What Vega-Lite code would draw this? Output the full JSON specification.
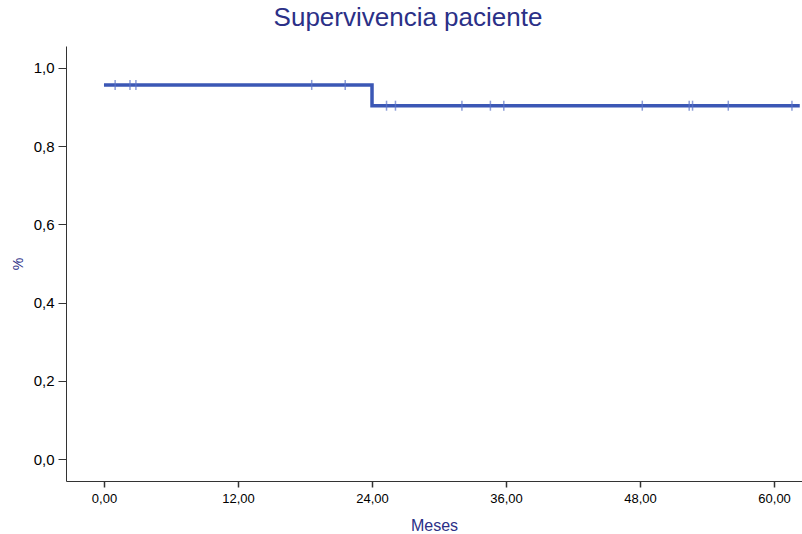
{
  "$schema": "https://vega.github.io/schema/vega-lite/v6.json",
  "width": 736,
  "height": 435,
  "autosize": {"type": "none"},
  "padding": {"left": 66, "top": 46, "right": 0, "bottom": 53},
  "background": "white",
  "config": {"view": {"stroke": null}},
  "title": {
    "text": "Supervivencia paciente",
    "font": "Liberation Sans",
    "fontSize": 26,
    "fontWeight": "normal",
    "color": "#2b3087",
    "anchor": "middle",
    "frame": "group",
    "dx": -26,
    "offset": 15
  },
  "datasets": {
    "curve": [
      {"meses": 0, "surv": 0.9565},
      {"meses": 24, "surv": 0.9034},
      {"meses": 62.3, "surv": 0.9034}
    ],
    "censor": [
      {"meses": 1.0, "surv": 0.9565},
      {"meses": 2.33, "surv": 0.9565},
      {"meses": 2.86, "surv": 0.9565},
      {"meses": 18.6, "surv": 0.9565},
      {"meses": 21.6, "surv": 0.9565},
      {"meses": 25.3, "surv": 0.9034},
      {"meses": 26.1, "surv": 0.9034},
      {"meses": 32.05, "surv": 0.9034},
      {"meses": 34.6, "surv": 0.9034},
      {"meses": 35.8, "surv": 0.9034},
      {"meses": 48.2, "surv": 0.9034},
      {"meses": 52.4, "surv": 0.9034},
      {"meses": 52.7, "surv": 0.9034},
      {"meses": 55.9, "surv": 0.9034},
      {"meses": 61.6, "surv": 0.9034}
    ]
  },
  "encoding": {
    "x": {
      "field": "meses",
      "type": "quantitative",
      "scale": {"domain": [-3.4, 62.5], "nice": false, "zero": false},
      "axis": {
        "values": [0, 12, 24, 36, 48, 60],
        "labelExpr": "replace(format(datum.value, '.2f'), '.', ',')",
        "title": "Meses",
        "titleFont": "'Liberation Sans Narrow', 'Liberation Sans'",
        "titleFontSize": 16,
        "titleFontWeight": "normal",
        "titleColor": "#2b3087",
        "titlePadding": 12,
        "labelFont": "'Liberation Sans Narrow', 'Liberation Sans'",
        "labelFontSize": 13,
        "labelColor": "#000000",
        "labelPadding": 5,
        "tickColor": "#333333",
        "tickSize": 6,
        "tickWidth": 1.5,
        "domainColor": "#333333",
        "domainWidth": 1,
        "grid": false
      }
    },
    "y": {
      "field": "surv",
      "type": "quantitative",
      "scale": {"domain": [-0.056, 1.056], "nice": false, "zero": false},
      "axis": {
        "values": [0, 0.2, 0.4, 0.6, 0.8, 1.0],
        "labelExpr": "replace(format(datum.value, '.1f'), '.', ',')",
        "title": "%",
        "titleFont": "Liberation Sans",
        "titleFontSize": 14,
        "titleFontWeight": "normal",
        "titleColor": "#2b3087",
        "titlePadding": 8,
        "labelFont": "Liberation Sans",
        "labelFontSize": 15,
        "labelColor": "#000000",
        "labelPadding": 4,
        "tickColor": "#333333",
        "tickSize": 8,
        "tickWidth": 1,
        "domainColor": "#333333",
        "domainWidth": 1,
        "grid": false
      }
    }
  },
  "layer": [
    {
      "data": {"name": "curve"},
      "mark": {"type": "line", "interpolate": "step-after", "color": "#3b57b5", "strokeWidth": 3.5, "clip": true}
    },
    {
      "data": {"name": "censor"},
      "mark": {"type": "tick", "orient": "vertical", "color": "#5b74c8", "size": 10, "thickness": 1.5}
    }
  ]
}
